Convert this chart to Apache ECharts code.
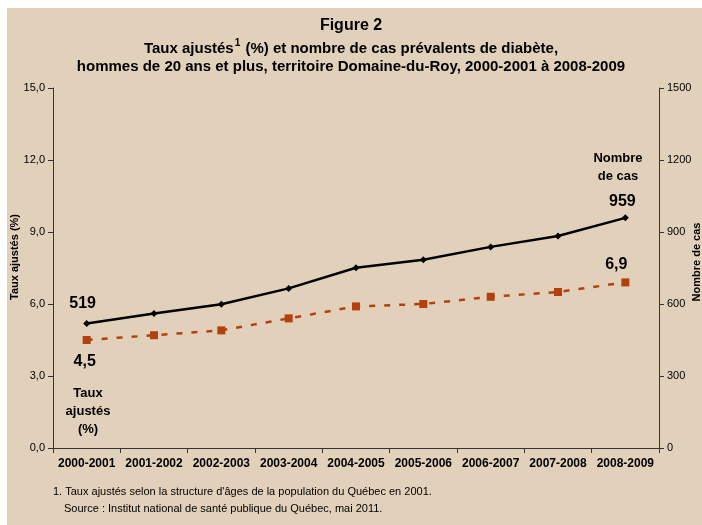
<!DOCTYPE html>
<html>
<head>
<meta charset="utf-8">
<script src="https://cdn.jsdelivr.net/npm/echarts@6/dist/echarts.min.js"></script>
<style>
  html, body { margin: 0; padding: 0; background: #fff; }
  #chart { width: 702px; height: 525px; }
</style>
</head>
<body>
<div id="chart"></div>
<script>
var periods = ["2000-2001", "2001-2002", "2002-2003", "2003-2004", "2004-2005",
               "2005-2006", "2006-2007", "2007-2008", "2008-2009"];
// nombre de cas (axe de droite)
var cases = [519, 560, 599, 665, 751, 784, 838, 883, 959];
// taux ajustés en % (axe de gauche)
var rates = [4.5, 4.7, 4.9, 5.4, 5.9, 6.0, 6.3, 6.5, 6.9];
var leftTicks = [0, 3, 6, 9, 12, 15];
var rightTicks = [0, 300, 600, 900, 1200, 1500];

var font = "Liberation Sans, Arial, sans-serif";
var axisCol = "#333";
var rust = "#B3410E";
var last = periods.length - 1;

function fmt(v) {
  return v.toFixed(1).replace(".", ",");
}

var casesData = cases.map(function (v, i) {
  var d = { value: v };
  if (i === 0) d.label = { show: true, position: "top", distance: 8, offset: [-4, 0] };
  if (i === last) d.label = { show: true, position: "top", distance: 5, offset: [-3, 0] };
  return d;
});
var ratesData = rates.map(function (v, i) {
  var d = { value: v };
  if (i === 0) d.label = { show: true, position: "bottom", distance: 10, offset: [-2, 0], formatter: function (p) { return fmt(p.value); } };
  if (i === last) d.label = { show: true, position: "top", distance: 6, offset: [-9, 0], formatter: function (p) { return fmt(p.value); } };
  return d;
});

var chart = echarts.init(document.getElementById("chart"));
chart.setOption({
  backgroundColor: "#fff",
  animation: false,
  textStyle: { fontFamily: font },
  graphic: [
    { type: "rect", z: -10, silent: true, shape: { x: 7, y: 8, width: 695, height: 517 }, style: { fill: "#E1D0BA" } },
    { type: "text", left: "center", top: 18, style: { text: "Figure 2", font: "bold 16px " + font, fill: "#000" } },
    {
      type: "text", left: "center", top: 38,
      style: {
        text: "{t|Taux ajustés}{s|1}{t| (%) et nombre de cas prévalents de diabète,}",
        rich: {
          t: { font: "bold 15px " + font, fill: "#000", verticalAlign: "bottom" },
          s: { font: "bold 10px " + font, fill: "#000", verticalAlign: "top", padding: [0, 1, 8, 1] }
        }
      }
    },
    { type: "text", left: "center", top: 59, style: { text: "hommes de 20 ans et plus, territoire Domaine-du-Roy, 2000-2001 à 2008-2009", font: "bold 15px " + font, fill: "#000" } },
    // axis titles
    { type: "text", x: 15, y: 257, rotation: Math.PI / 2, style: { text: "Taux ajustés (%)", font: "bold 11px " + font, fill: "#000", align: "center", verticalAlign: "middle" } },
    { type: "text", x: 697, y: 262, rotation: Math.PI / 2, style: { text: "Nombre de cas", font: "bold 11px " + font, fill: "#000", align: "center", verticalAlign: "middle" } },
    // annotations
    { type: "text", x: 88, y: 384, style: { text: "Taux\najustés\n(%)", font: "bold 13px " + font, fill: "#000", align: "center", lineHeight: 18 } },
    { type: "text", x: 618, y: 149, style: { text: "Nombre\nde cas", font: "bold 13px " + font, fill: "#000", align: "center", lineHeight: 18 } },
    // footnotes
    { type: "text", x: 53, y: 486, style: { text: "1. Taux ajustés selon la structure d'âges de la population du Québec en 2001.", font: "11px " + font, fill: "#000" } },
    { type: "text", x: 64, y: 503, style: { text: "Source : Institut national de santé publique du Québec, mai 2011.", font: "11px " + font, fill: "#000" } }
  ],
  grid: { left: 53, right: 43, top: 88, bottom: 77, containLabel: false, outerBoundsMode: "none" },
  xAxis: {
    type: "category",
    data: periods,
    boundaryGap: true,
    axisLine: { lineStyle: { color: axisCol, width: 1 } },
    axisTick: { show: true, length: 5, lineStyle: { color: axisCol } },
    axisLabel: { color: "#000", fontWeight: "bold", fontSize: 12, margin: 10, interval: 0 }
  },
  yAxis: [
    {
      type: "value",
      min: leftTicks[0], max: leftTicks[leftTicks.length - 1], interval: 3,
      axisLine: { show: true, lineStyle: { color: axisCol } },
      axisTick: { show: true, length: 5, lineStyle: { color: axisCol } },
      splitLine: { show: false },
      axisLabel: { color: "#000", fontSize: 11, margin: 8, formatter: function (v) { return fmt(v); } }
    },
    {
      type: "value",
      min: rightTicks[0], max: rightTicks[rightTicks.length - 1], interval: 300,
      axisLine: { show: true, lineStyle: { color: axisCol } },
      axisTick: { show: true, length: 5, lineStyle: { color: axisCol } },
      splitLine: { show: false },
      axisLabel: { color: "#000", fontSize: 11, margin: 8, formatter: function (v) { return String(v); } }
    }
  ],
  series: [
    {
      name: "Nombre de cas",
      type: "line",
      yAxisIndex: 1,
      data: casesData,
      symbol: "diamond",
      symbolSize: 7,
      lineStyle: { color: "#000", width: 2.5 },
      itemStyle: { color: "#000" },
      label: { show: false, color: "#000", fontWeight: "bold", fontSize: 16 },
      z: 3
    },
    {
      name: "Taux ajustés",
      type: "line",
      yAxisIndex: 0,
      data: ratesData,
      symbol: "rect",
      symbolSize: 8,
      lineStyle: { color: rust, width: 2.5, type: [6, 9] },
      itemStyle: { color: rust },
      label: { show: false, color: "#000", fontWeight: "bold", fontSize: 16 },
      z: 2
    }
  ]
});
</script>
</body>
</html>
